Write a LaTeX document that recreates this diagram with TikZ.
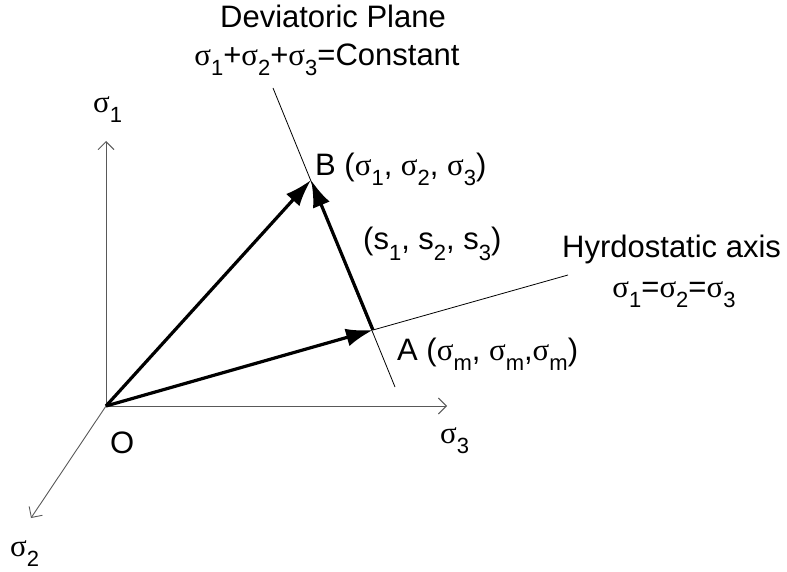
\documentclass[tikz,border=0pt]{standalone}
\usepackage{fontspec}
\setmainfont{Liberation Sans}
\newfontfamily\greekfont{Liberation Serif}
\usetikzlibrary{arrows.meta}
\newcommand{\sg}[1]{{\greekfont σ}\raisebox{-10pt}{\fontsize{22}{23}\selectfont #1}}
\newcommand{\lsub}[2]{#1\raisebox{-10pt}{\fontsize{22}{23}\selectfont #2}}
\tikzset{
  axis/.style={draw=black!65, line width=0.9pt, -{Straight Barb[length=8pt,width=16pt]}},
  thinline/.style={line width=0.8pt},
  vec/.style={line width=3.2pt, -{Latex[length=27pt,width=18pt]}},
  lbl/.style={inner sep=0pt, anchor=base west, font=\fontsize{31}{36}\selectfont}
}

\begin{document}
\begin{tikzpicture}[x=1pt, y=-1pt]
  \useasboundingbox (0,0) rectangle (787,572);
  % points
  \coordinate (O) at (106,406);
  \coordinate (A) at (373,330);
  \coordinate (B) at (311,180);
  \coordinate (s1end) at (106,141);
  \coordinate (s2end) at (31,518);
  \coordinate (s3end) at (447,406);
  \coordinate (devtop) at (273,88);
  \coordinate (devbot) at (395,387);
  \coordinate (hydend) at (568,275);
  % axes
  \draw[axis] (O) -- (s1end);
  \draw[axis] (O) -- (s2end);
  \draw[axis] (O) -- (s3end);
  % deviatoric plane and hydrostatic axis
  \draw[thinline] (devtop) -- (devbot);
  \draw[thinline] (A) -- (hydend);
  % stress vectors
  \draw[vec] (O) -- (A);
  \draw[vec] (O) -- (B);
  \draw[vec] (A) -- (B);
  % labels
  \node[lbl, anchor=base] (planename) at (333,28) {Deviatoric Plane};
  \node[lbl, anchor=base] (planeeq) at (327,66) {\sg{1}+\sg{2}+\sg{3}=Constant};
  \node[lbl] (s1lbl) at (93,113) {\sg{1}};
  \node[lbl] (s2lbl) at (10,556) {\sg{2}};
  \node[lbl] (s3lbl) at (440,443) {\sg{3}};
  \node[lbl] (olbl) at (110,453) {O};
  \node[lbl] (blbl) at (315,176) {B (\sg{1}, \sg{2}, \sg{3})};
  \node[lbl] (devlbl) at (363,250) {(\lsub{s}{1}, \lsub{s}{2}, \lsub{s}{3})};
  \node[lbl] (hydname) at (562,257) {Hyrdostatic axis};
  \node[lbl, anchor=base] (hydeq) at (674,297) {\sg{1}=\sg{2}=\sg{3}};
  \node[lbl] (albl) at (397,360) {A (\sg{m}, \sg{m},\sg{m})};
\end{tikzpicture}
\end{document}
